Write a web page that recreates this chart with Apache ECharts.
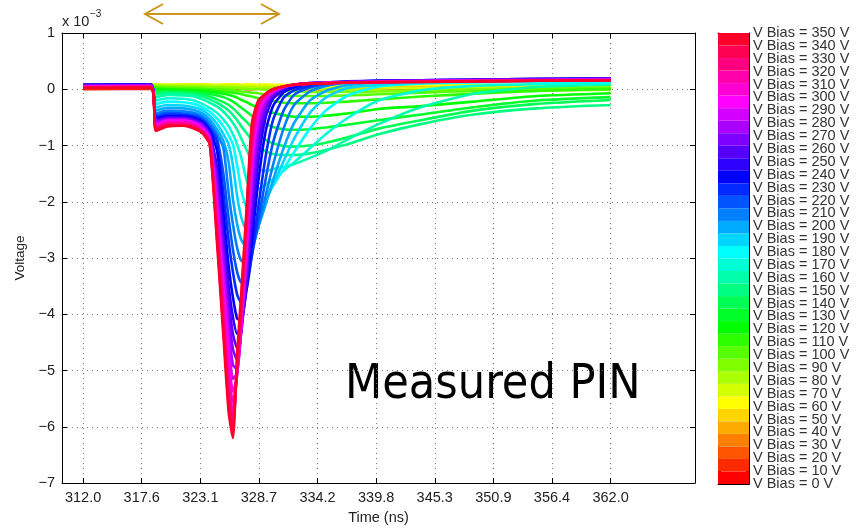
<!DOCTYPE html>
<html>
<head>
<meta charset="utf-8">
<script src="https://cdn.jsdelivr.net/npm/echarts@6/dist/echarts.min.js"></script>
<style>
  html, body { margin: 0; padding: 0; background: #fff; }
  #chart { width: 865px; height: 528px; }
</style>
</head>
<body>
<div id="chart"></div>
<script>
// sample times (ns), shared by every trace
const times = [312, 318.4, 318.9, 320, 321.5, 322.5, 323.3, 324, 324.7, 325.3, 325.8, 326.2, 326.6, 327.0, 327.5,
  328.0, 328.6, 329.3, 330, 331, 332, 333.5, 335, 337, 340, 344, 349, 355, 362]
const xTicks = [312.0, 317.556, 323.111, 328.667, 334.222, 339.778, 345.333, 350.889, 356.444, 362.0]
const biasVolts = [0, 10, 20, 30, 40, 50, 60, 70, 80, 90, 100, 110, 120, 130, 140, 150, 160, 170,
  180, 190, 200, 210, 220, 230, 240, 250, 260, 270, 280, 290, 300, 310, 320, 330, 340, 350]

// voltage traces, units of 1e-3 V
const v0 = [0.00, 0.01, 0.00, -0.01, 0.00, 0.01, 0.00, -0.01, 0.00, 0.01, 0.00, -0.01, 0.00, 0.01, 0.00, 0.00, 0.01, 0.00, -0.01, 0.00, 0.01, 0.00, 0.00, 0.01, 0.00, 0.01, 0.00, 0.01, 0.01]
const v10 = [0.01, 0.02, 0.01, 0.00, 0.01, 0.02, 0.01, 0.00, 0.01, 0.02, 0.01, 0.01, 0.00, 0.01, 0.02, 0.01, 0.01, 0.02, 0.01, 0.01, 0.02, 0.01, 0.02, 0.02, 0.01, 0.02, 0.02, 0.02, 0.02]
const v20 = [0.02, 0.03, 0.02, 0.02, 0.03, 0.02, 0.03, 0.02, 0.02, 0.03, 0.03, 0.02, 0.03, 0.02, 0.03, 0.03, 0.02, 0.03, 0.03, 0.02, 0.03, 0.03, 0.03, 0.02, 0.03, 0.03, 0.03, 0.04, 0.03]
const v30 = [0.03, 0.04, 0.04, 0.03, 0.04, 0.04, 0.03, 0.04, 0.04, 0.04, 0.03, 0.04, 0.04, 0.04, 0.03, 0.04, 0.04, 0.04, 0.04, 0.03, 0.04, 0.04, 0.04, 0.04, 0.04, 0.04, 0.04, 0.05, 0.04]
const v40 = [0.05, 0.05, 0.05, 0.04, 0.05, 0.05, 0.05, 0.05, 0.04, 0.05, 0.05, 0.05, 0.05, 0.05, 0.04, 0.05, 0.05, 0.05, 0.05, 0.05, 0.04, 0.05, 0.05, 0.05, 0.05, 0.05, 0.05, 0.06, 0.05]
const v50 = [0.06, 0.07, 0.07, 0.06, 0.07, 0.07, 0.07, 0.06, 0.07, 0.07, 0.07, 0.07, 0.06, 0.07, 0.07, 0.07, 0.06, 0.07, 0.07, 0.07, 0.06, 0.07, 0.07, 0.06, 0.07, 0.07, 0.07, 0.07, 0.07]
const v60 = [0.08, 0.09, 0.09, 0.08, 0.09, 0.09, 0.09, 0.09, 0.08, 0.09, 0.09, 0.09, 0.09, 0.08, 0.09, 0.09, 0.08, 0.09, 0.08, 0.08, 0.08, 0.08, 0.07, 0.08, 0.08, 0.08, 0.08, 0.08, 0.08]
const v70 = [0.09, 0.09, 0.09, 0.08, 0.08, 0.08, 0.08, 0.08, 0.07, 0.07, 0.07, 0.07, 0.07, 0.07, 0.06, 0.06, 0.06, 0.06, 0.05, 0.05, 0.05, 0.04, 0.04, 0.03, 0.03, 0.02, 0.03, 0.03, 0.04]
const v80 = [0.07, 0.08, 0.07, 0.06, 0.06, 0.06, 0.06, 0.05, 0.05, 0.05, 0.05, 0.05, 0.04, 0.04, 0.04, 0.04, 0.03, 0.03, 0.03, 0.02, 0.02, 0.01, 0.00, -0.01, -0.02, -0.03, -0.03, -0.02, -0.01]
const v90 = [0.06, 0.06, 0.05, 0.05, 0.04, 0.04, 0.04, 0.03, 0.03, 0.03, 0.02, 0.02, 0.02, 0.01, 0.01, 0.00, 0.00, -0.01, -0.02, -0.03, -0.04, -0.05, -0.05, -0.05, -0.04, -0.02, 0.00, 0.02, 0.03]
const v100 = [0.05, 0.05, 0.04, 0.03, 0.02, 0.02, 0.01, 0.00, 0.00, -0.01, -0.01, -0.02, -0.03, -0.04, -0.05, -0.06, -0.07, -0.09, -0.10, -0.11, -0.12, -0.12, -0.12, -0.11, -0.09, -0.06, -0.03, 0.00, 0.02]
const v110 = [0.04, 0.05, 0.02, 0.00, 0.00, -0.01, -0.01, -0.02, -0.03, -0.04, -0.05, -0.06, -0.07, -0.09, -0.11, -0.13, -0.16, -0.19, -0.21, -0.24, -0.25, -0.25, -0.24, -0.22, -0.18, -0.13, -0.08, -0.03, 0.00]
const v120 = [0.04, 0.04, -0.01, -0.01, -0.02, -0.02, -0.03, -0.04, -0.06, -0.08, -0.10, -0.12, -0.15, -0.19, -0.23, -0.28, -0.33, -0.38, -0.42, -0.46, -0.49, -0.49, -0.47, -0.43, -0.35, -0.30, -0.22, -0.12, -0.07]
const v130 = [0.04, 0.04, -0.03, -0.03, -0.04, -0.05, -0.06, -0.08, -0.11, -0.14, -0.18, -0.22, -0.27, -0.33, -0.40, -0.47, -0.55, -0.62, -0.67, -0.71, -0.72, -0.71, -0.68, -0.63, -0.55, -0.45, -0.32, -0.20, -0.14]
const v140 = [0.04, 0.04, -0.06, -0.05, -0.06, -0.07, -0.09, -0.13, -0.18, -0.23, -0.28, -0.34, -0.41, -0.49, -0.58, -0.68, -0.80, -0.90, -0.96, -1.01, -1.02, -1.00, -0.95, -0.86, -0.70, -0.55, -0.38, -0.26, -0.19]
const v150 = [0.04, 0.04, -0.09, -0.07, -0.08, -0.10, -0.13, -0.18, -0.24, -0.31, -0.38, -0.46, -0.55, -0.66, -0.78, -0.90, -1.02, -1.10, -1.15, -1.17, -1.17, -1.14, -1.08, -0.98, -0.80, -0.62, -0.45, -0.34, -0.28]
const v160 = [0.04, 0.05, -0.14, -0.10, -0.11, -0.13, -0.18, -0.24, -0.31, -0.40, -0.50, -0.60, -0.72, -0.88, -1.08, -1.28, -1.42, -1.45, -1.42, -1.38, -1.33, -1.22, -1.10, -0.90, -0.62, -0.32, -0.08, 0.04, 0.08]
const v170 = [0.05, 0.05, -0.20, -0.16, -0.17, -0.20, -0.26, -0.33, -0.42, -0.54, -0.66, -0.80, -0.98, -1.22, -1.62, -1.80, -1.78, -1.70, -1.60, -1.45, -1.30, -1.05, -0.80, -0.52, -0.20, -0.02, 0.06, 0.09, 0.10]
const v180 = [0.05, 0.05, -0.26, -0.22, -0.23, -0.26, -0.32, -0.40, -0.52, -0.66, -0.82, -0.98, -1.35, -1.80, -2.10, -2.18, -2.10, -1.92, -1.72, -1.42, -1.12, -0.70, -0.38, -0.12, 0.05, 0.10, 0.12, 0.13, 0.13]
const v190 = [0.05, 0.06, -0.32, -0.28, -0.29, -0.32, -0.37, -0.47, -0.62, -0.80, -0.98, -1.35, -1.90, -2.28, -2.50, -2.47, -2.30, -2.00, -1.70, -1.28, -0.88, -0.42, -0.15, 0.02, 0.08, 0.12, 0.14, 0.15, 0.16]
const v200 = [0.06, 0.06, -0.38, -0.33, -0.34, -0.37, -0.43, -0.54, -0.72, -0.92, -1.30, -1.95, -2.40, -2.68, -2.80, -2.70, -2.45, -2.05, -1.62, -1.05, -0.60, -0.20, -0.03, 0.07, 0.12, 0.14, 0.15, 0.16, 0.17]
const v210 = [0.06, 0.07, -0.43, -0.38, -0.39, -0.42, -0.48, -0.60, -0.80, -1.05, -1.85, -2.40, -2.82, -3.05, -3.08, -2.85, -2.45, -1.90, -1.35, -0.70, -0.28, -0.04, 0.06, 0.11, 0.13, 0.15, 0.16, 0.17, 0.18]
const v220 = [0.07, 0.08, -0.47, -0.42, -0.43, -0.46, -0.52, -0.66, -0.88, -1.50, -2.30, -2.85, -3.25, -3.44, -3.35, -2.95, -2.35, -1.60, -0.95, -0.38, -0.10, 0.03, 0.09, 0.13, 0.14, 0.15, 0.16, 0.17, 0.18]
const v230 = [0.08, 0.09, -0.50, -0.45, -0.46, -0.49, -0.55, -0.70, -0.95, -1.85, -2.70, -3.25, -3.65, -3.80, -3.55, -2.95, -2.10, -1.20, -0.55, -0.15, -0.02, 0.06, 0.11, 0.13, 0.15, 0.16, 0.17, 0.18, 0.19]
const v240 = [0.08, 0.09, -0.52, -0.48, -0.48, -0.51, -0.58, -0.74, -1.10, -2.20, -3.15, -3.70, -4.08, -4.10, -3.55, -2.70, -1.65, -0.75, -0.30, -0.06, 0.03, 0.10, 0.12, 0.14, 0.15, 0.16, 0.17, 0.18, 0.19]
const v250 = [0.08, 0.08, -0.54, -0.50, -0.50, -0.53, -0.60, -0.78, -1.40, -2.55, -3.50, -4.05, -4.35, -4.20, -3.45, -2.45, -1.30, -0.50, -0.17, -0.02, 0.07, 0.11, 0.12, 0.13, 0.15, 0.16, 0.17, 0.18, 0.19]
const v260 = [0.07, 0.08, -0.56, -0.51, -0.51, -0.55, -0.62, -0.80, -1.55, -2.75, -3.75, -4.35, -4.60, -4.30, -3.35, -2.20, -1.00, -0.36, -0.11, 0.02, 0.08, 0.11, 0.12, 0.13, 0.14, 0.16, 0.17, 0.18, 0.18]
const v270 = [0.06, 0.07, -0.58, -0.53, -0.53, -0.57, -0.64, -0.82, -1.70, -2.95, -4.00, -4.62, -4.82, -4.30, -3.20, -1.95, -0.80, -0.28, -0.08, 0.04, 0.08, 0.11, 0.12, 0.13, 0.14, 0.15, 0.16, 0.17, 0.18]
const v280 = [0.06, 0.06, -0.60, -0.54, -0.54, -0.58, -0.66, -0.84, -1.85, -3.15, -4.25, -4.90, -4.98, -4.25, -3.05, -1.70, -0.65, -0.22, -0.06, 0.04, 0.08, 0.10, 0.12, 0.13, 0.14, 0.15, 0.16, 0.17, 0.18]
const v290 = [0.05, 0.06, -0.62, -0.55, -0.55, -0.59, -0.68, -0.86, -2.00, -3.35, -4.50, -5.15, -5.05, -4.20, -2.90, -1.50, -0.52, -0.17, -0.05, 0.04, 0.08, 0.10, 0.11, 0.12, 0.13, 0.14, 0.15, 0.16, 0.17]
const v300 = [0.05, 0.05, -0.64, -0.56, -0.56, -0.60, -0.70, -0.88, -2.15, -3.55, -4.75, -5.38, -5.08, -4.12, -2.75, -1.30, -0.42, -0.14, -0.03, 0.04, 0.08, 0.10, 0.11, 0.12, 0.13, 0.14, 0.15, 0.16, 0.17]
const v310 = [0.04, 0.05, -0.66, -0.58, -0.58, -0.62, -0.72, -0.90, -2.30, -3.75, -5.00, -5.58, -5.05, -4.05, -2.62, -1.15, -0.36, -0.12, -0.02, 0.05, 0.08, 0.10, 0.11, 0.12, 0.13, 0.14, 0.15, 0.16, 0.16]
const v320 = [0.04, 0.05, -0.68, -0.60, -0.60, -0.64, -0.74, -0.92, -2.42, -3.92, -5.22, -5.76, -5.00, -3.95, -2.50, -1.00, -0.30, -0.10, -0.01, 0.05, 0.08, 0.10, 0.11, 0.12, 0.13, 0.14, 0.15, 0.15, 0.16]
const v330 = [0.03, 0.04, -0.70, -0.62, -0.62, -0.66, -0.76, -0.94, -2.55, -4.10, -5.42, -5.92, -4.95, -3.85, -2.35, -0.85, -0.26, -0.09, 0.00, 0.05, 0.08, 0.10, 0.11, 0.12, 0.13, 0.14, 0.14, 0.15, 0.16]
const v340 = [0.03, 0.04, -0.72, -0.64, -0.64, -0.68, -0.77, -0.96, -2.65, -4.25, -5.60, -6.06, -4.85, -3.72, -2.22, -0.72, -0.23, -0.08, 0.00, 0.05, 0.08, 0.10, 0.11, 0.12, 0.13, 0.13, 0.14, 0.15, 0.16]
const v350 = [0.02, 0.03, -0.74, -0.66, -0.65, -0.70, -0.78, -0.98, -2.75, -4.40, -5.75, -6.20, -4.70, -3.60, -2.10, -0.60, -0.20, -0.08, 0.00, 0.05, 0.08, 0.10, 0.10, 0.12, 0.12, 0.13, 0.14, 0.15, 0.15]
const waves = [v0, v10, v20, v30, v40, v50, v60, v70, v80, v90, v100, v110, v120, v130, v140, v150, v160, v170,
  v180, v190, v200, v210, v220, v230, v240, v250, v260, v270, v280, v290, v300, v310, v320, v330, v340, v350]

// matlab hsv colormap, hue in degrees
function hsv(h) {
  const f = (n) => {
    const k = (n + h / 60) % 6
    return Math.round(255 * (1 - Math.max(0, Math.min(k, 4 - k, 1))))
  }
  return 'rgb(' + f(5) + ',' + f(3) + ',' + f(1) + ')'
}

const font = 'Liberation Sans, Arial, Helvetica, sans-serif'
const textColor = '#222'
const minus = (v) => (v < 0 ? '\u2212' + (-v) : String(v))

const chart = echarts.init(document.getElementById('chart'))

const series = biasVolts.map((b, i) => ({
  type: 'line',
  name: 'V Bias = ' + b + ' V',
  xAxisIndex: 0,
  yAxisIndex: 0,
  data: times.map((t, k) => [t, waves[i][k]]),
  symbol: 'none',
  smooth: 0.2,
  silent: true,
  lineStyle: { width: 2.6, color: hsv(b) }
}))
// colorbar
series.push({
  type: 'bar',
  xAxisIndex: 2,
  yAxisIndex: 2,
  data: biasVolts.map((b) => ({ value: 1, itemStyle: { color: hsv(b) } })),
  barWidth: '100%',
  barCategoryGap: '0%',
  silent: true
})

const boxLine = { show: true, onZero: false, lineStyle: { color: '#000', width: 1 } }
const gridDots = { show: true, lineStyle: { color: '#777', type: [1, 4], width: 1 } }
const barTicks = { inside: true, length: 3, interval: 0, lineStyle: { color: '#000' } }

chart.setOption({
  animation: false,
  backgroundColor: '#fff',
  grid: [
    { left: 62, top: 33, width: 633, height: 450, outerBoundsMode: 'none', containLabel: false },
    { left: 718, top: 33, width: 31, height: 451, outerBoundsMode: 'none', containLabel: false }
  ],
  xAxis: [
    {
      type: 'value', gridIndex: 0, min: 310, max: 370, position: 'bottom',
      axisLine: boxLine,
      axisTick: { inside: true, length: 5, customValues: xTicks, lineStyle: { color: '#000' } },
      axisLabel: {
        customValues: xTicks, formatter: (v) => v.toFixed(1), margin: 7,
        color: textColor, fontSize: 14.5, fontFamily: font
      },
      splitLine: gridDots,
      name: 'Time (ns)', nameLocation: 'middle', nameGap: 27,
      nameTextStyle: { color: textColor, fontSize: 14.5, fontFamily: font }
    },
    {
      type: 'value', gridIndex: 0, min: 310, max: 370, position: 'top',
      axisLine: boxLine,
      axisTick: { inside: true, length: 5, customValues: xTicks, lineStyle: { color: '#000' } },
      axisLabel: { show: false },
      splitLine: { show: false }
    },
    {
      type: 'value', gridIndex: 1, min: 0, max: 1, position: 'bottom',
      axisLine: boxLine, axisTick: { show: false }, axisLabel: { show: false }, splitLine: { show: false }
    },
    {
      type: 'value', gridIndex: 1, min: 0, max: 1, position: 'top',
      axisLine: boxLine, axisTick: { show: false }, axisLabel: { show: false }, splitLine: { show: false }
    }
  ],
  yAxis: [
    {
      type: 'value', gridIndex: 0, min: -7, max: 1, interval: 1, position: 'left',
      axisLine: boxLine,
      axisTick: { inside: true, length: 5, lineStyle: { color: '#000' } },
      axisLabel: { formatter: minus, margin: 7, color: textColor, fontSize: 14.5, fontFamily: font },
      splitLine: gridDots,
      name: 'Voltage', nameLocation: 'middle', nameGap: 30, nameRotate: 90,
      nameTextStyle: { color: textColor, fontSize: 13.5, fontFamily: font }
    },
    {
      type: 'value', gridIndex: 0, min: -7, max: 1, interval: 1, position: 'right',
      axisLine: boxLine,
      axisTick: { inside: true, length: 5, lineStyle: { color: '#000' } },
      axisLabel: { show: false }, splitLine: { show: false }
    },
    {
      type: 'category', gridIndex: 1, data: biasVolts.map(String), show: false
    },
    {
      type: 'category', gridIndex: 1, data: biasVolts, boundaryGap: false, position: 'right',
      axisLine: boxLine,
      axisTick: barTicks,
      axisLabel: {
        interval: 0, formatter: 'V Bias = {value} V', margin: 4,
        color: '#333', fontSize: 14.5, fontFamily: font
      },
      splitLine: { show: false }
    },
    {
      type: 'category', gridIndex: 1, data: biasVolts, boundaryGap: false, position: 'left',
      axisLine: boxLine,
      axisTick: barTicks,
      axisLabel: { show: false }, splitLine: { show: false }
    }
  ],
  graphic: [
    {
      type: 'text', left: 62, top: 14,
      style: { text: 'x 10', fontSize: 14.5, fontFamily: font, fill: textColor }
    },
    {
      type: 'text', left: 90, top: 9,
      style: { text: '\u22123', fontSize: 10, fontFamily: font, fill: textColor }
    },
    {
      type: 'text', x: 345, y: 386,
      style: {
        text: 'Measured PIN', fontSize: 48, fontFamily: 'DejaVu Sans Condensed, DejaVu Sans, sans-serif',
        fill: '#000', verticalAlign: 'middle', align: 'left'
      }
    },
    {
      type: 'polyline', shape: { points: [[145, 14], [279, 14]] },
      style: { stroke: '#c9971c', lineWidth: 2, fill: null }
    },
    {
      type: 'polyline', shape: { points: [[163, 4], [145, 14], [163, 24]] },
      style: { stroke: '#c9971c', lineWidth: 2, fill: null }
    },
    {
      type: 'polyline', shape: { points: [[261, 4], [279, 14], [261, 24]] },
      style: { stroke: '#c9971c', lineWidth: 2, fill: null }
    }
  ],
  series: series
})
</script>
</body>
</html>
